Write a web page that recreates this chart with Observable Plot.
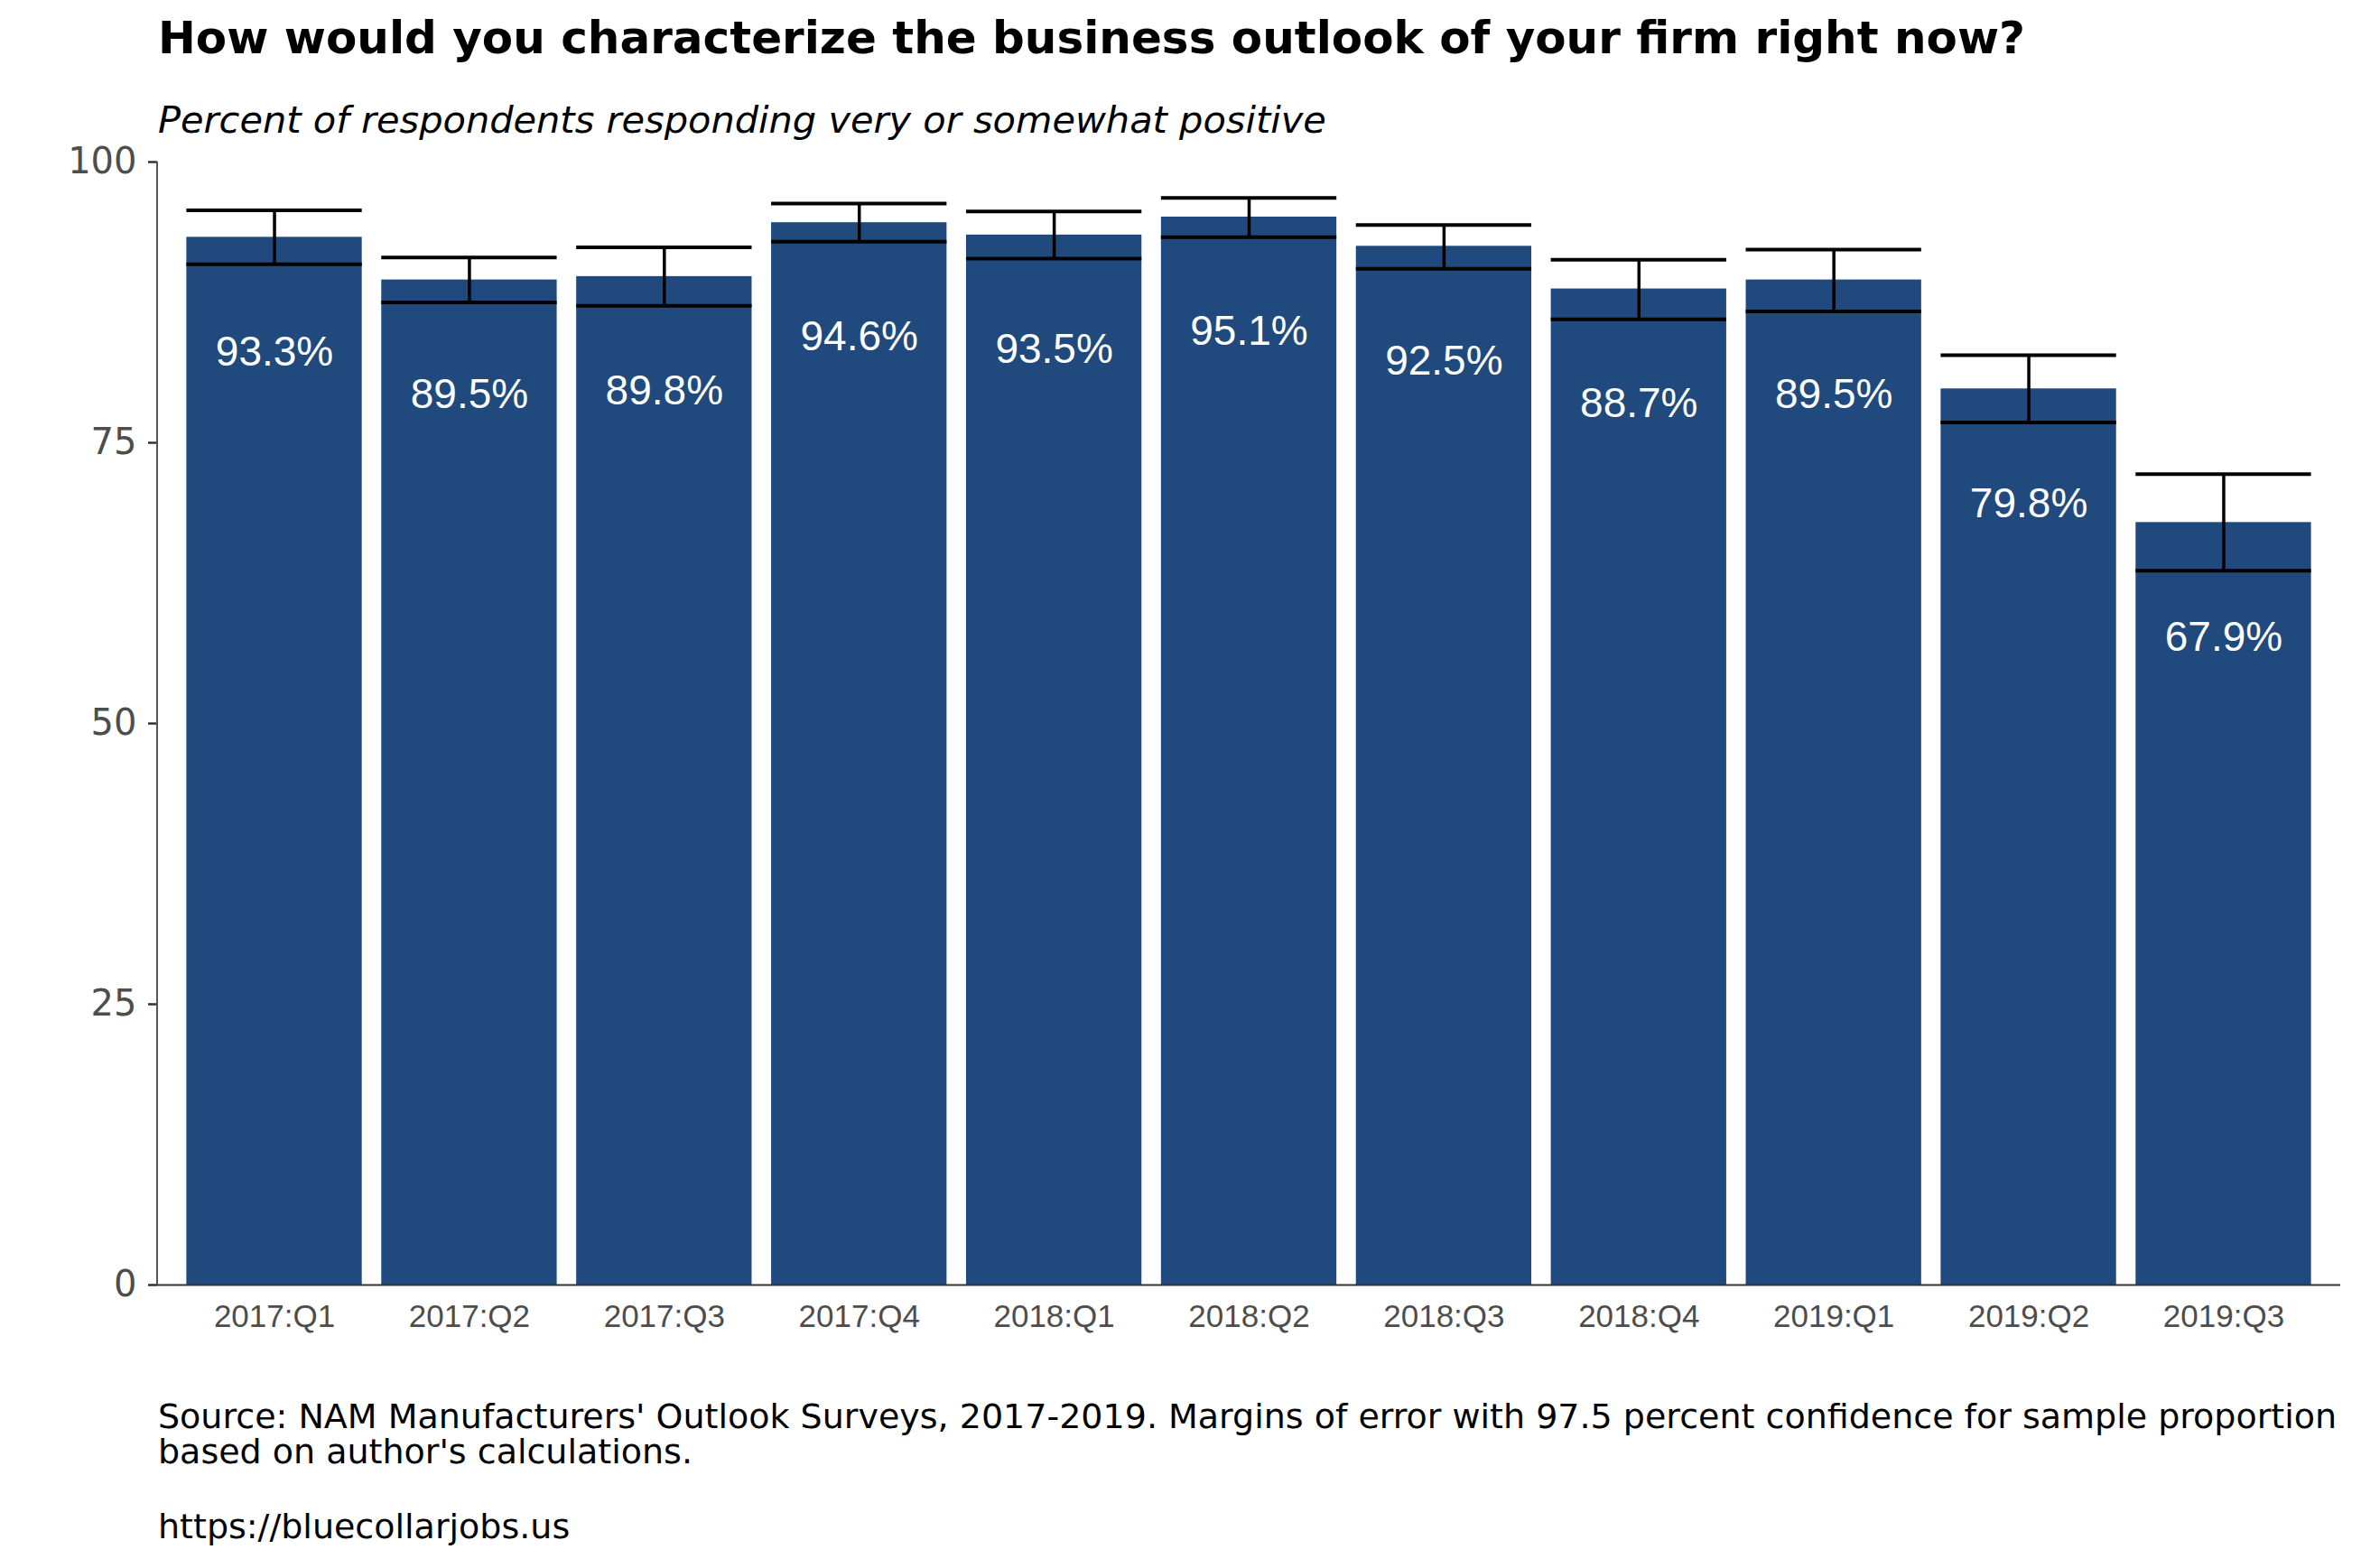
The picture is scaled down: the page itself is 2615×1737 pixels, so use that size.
<!DOCTYPE html>
<html><head><meta charset="utf-8">
<script src="https://cdn.jsdelivr.net/npm/d3@7"></script>
<script src="https://cdn.jsdelivr.net/npm/@observablehq/plot@0.6"></script>
<style>
body{margin:0;background:#fff;}
#wrap{position:relative;width:2615px;height:1737px;background:#fff;}
.t{position:absolute;left:175px;white-space:nowrap;font-family:"DejaVu Sans";color:#000;}
#title{top:17px;font-size:50px;font-weight:bold;line-height:1;}
#subtitle{top:112px;font-size:41.5px;font-style:italic;line-height:1;}
#chart{position:absolute;left:0;top:155px;}
#caption{top:1550px;font-size:38px;line-height:39px;}
#url{top:1672px;font-size:38px;line-height:39px;}
</style></head>
<body><div id="wrap">
<div class="t" id="title">How would you characterize the business outlook of your firm right now?</div>
<div class="t" id="subtitle">Percent of respondents responding very or somewhat positive</div>
<div id="chart"></div>
<div class="t" id="caption">Source: NAM Manufacturers' Outlook Surveys, 2017-2019. Margins of error with 97.5 percent confidence for sample proportion<br>based on author's calculations.</div>
<div class="t" id="url">https://bluecollarjobs.us</div>
</div>
<script>
const quarters = ["2017:Q1","2017:Q2","2017:Q3","2017:Q4","2018:Q1","2018:Q2","2018:Q3","2018:Q4","2019:Q1","2019:Q2","2019:Q3"];
const pct   = [93.3, 89.5, 89.8, 94.6, 93.5, 95.1, 92.5, 88.7, 89.5, 79.8, 67.9];
const lower = [90.9, 87.5, 87.2, 92.9, 91.4, 93.3, 90.5, 86.0, 86.7, 76.8, 63.6];
const upper = [95.7, 91.5, 92.4, 96.3, 95.6, 96.8, 94.4, 91.3, 92.2, 82.8, 72.2];
const yTicks = [0, 25, 50, 75, 100];

const data = quarters.map((q, i) => ({q, pct: pct[i], lo: lower[i], hi: upper[i]}));
const barColor = "#204a7d";

const chart = Plot.plot({
  width: 2615,
  height: 1335,
  marginTop: 24,
  marginBottom: 67,
  marginLeft: 174,
  marginRight: 23,
  style: {background: "transparent", overflow: "visible"},
  x: {domain: quarters, paddingInner: 0.1, paddingOuter: 0.15, round: false, label: null},
  y: {domain: [0, 100], label: null},
  marks: [
    Plot.barY(data, {x: "q", y: "pct", fill: barColor}),
    Plot.ruleY([0], {stroke: "#333", strokeWidth: 2}),
    Plot.ruleX(data, {x: "q", y1: "lo", y2: "hi", stroke: "#000", strokeWidth: 3.5}),
    Plot.tickY(data, {x: "q", y: "lo", stroke: "#000", strokeWidth: 4}),
    Plot.tickY(data, {x: "q", y: "hi", stroke: "#000", strokeWidth: 4}),
    Plot.text(data, {x: "q", y: "pct", text: d => d.pct.toFixed(1) + "%", dy: 127, fill: "#fff", fontSize: 46, fontFamily: "Liberation Sans"}),
    Plot.axisY({ticks: yTicks, tickSize: 10, tickPadding: 13, fontSize: 40, fontFamily: "DejaVu Sans", color: "#4d4d4d", stroke: "#333", strokeWidth: 2.5, label: null}),
    Plot.axisX({tickSize: 0, tickPadding: 22, fontSize: 35, fontFamily: "Liberation Sans", color: "#4d4d4d", label: null})
  ]
});
document.getElementById("chart").appendChild(chart);

// y axis line drawn from the y scale's range at the frame's left edge
const ys = chart.scale("y");
const xs = chart.scale("x");
d3.select(chart).append("line")
  .attr("x1", xs.range[0]).attr("x2", xs.range[0])
  .attr("y1", ys.range[0]).attr("y2", ys.range[1])
  .attr("stroke", "#555").attr("stroke-width", 2);
</script>
</body></html>
